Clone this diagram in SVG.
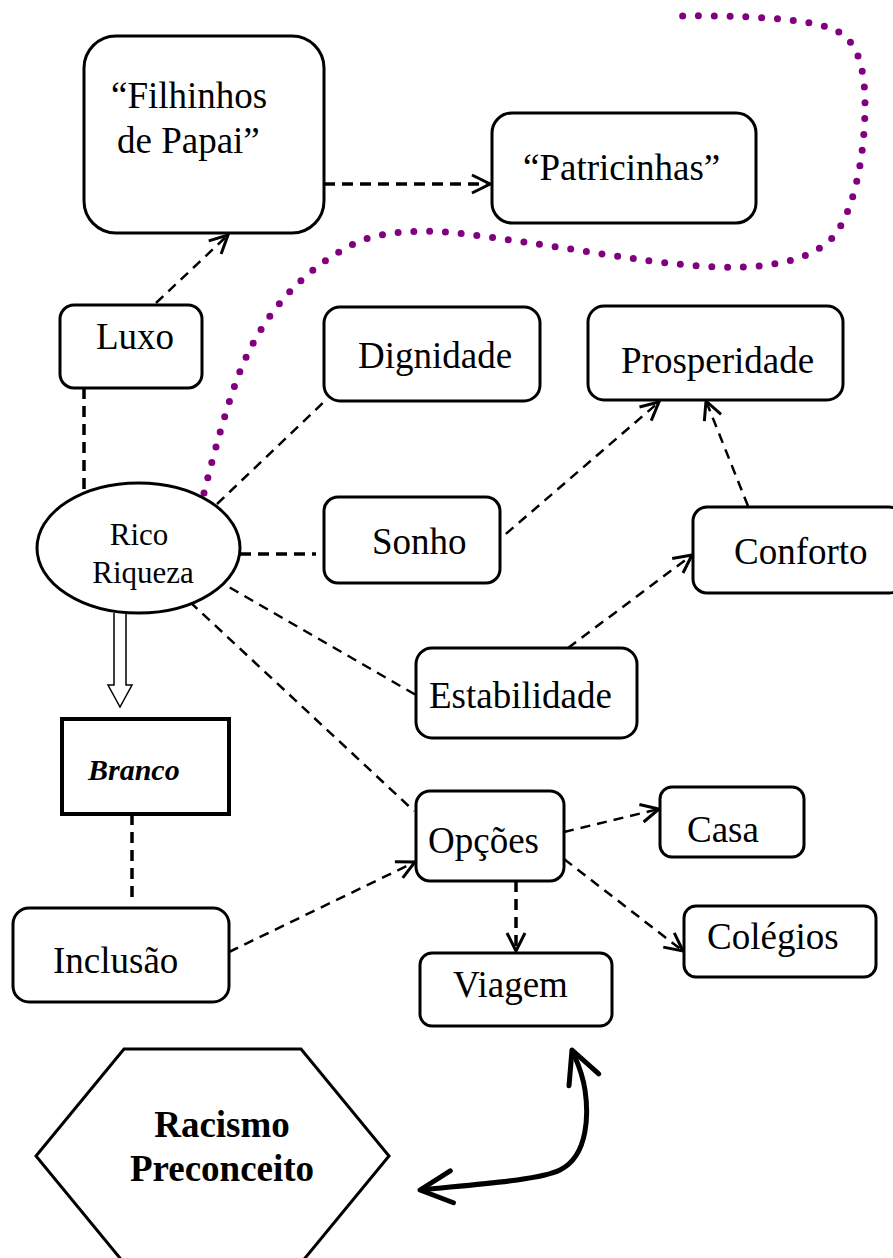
<svg xmlns="http://www.w3.org/2000/svg" width="893" height="1258" viewBox="0 0 893 1258">
  <defs>
    <style>
      .box { fill: #fff; stroke: #000; stroke-width: 3; }
      .lbl { font-family: "Liberation Serif", "Times New Roman", serif; font-size: 37px; fill: #000; }
      .dash { fill: none; stroke: #000; stroke-width: 2.5; stroke-dasharray: 10 7; }
      .dashb { fill: none; stroke: #000; stroke-width: 3.5; stroke-dasharray: 11 7; }
      .dots { fill: none; stroke: #800080; stroke-width: 7; stroke-linecap: round; stroke-dasharray: 0 15.8; }
    </style>
    <marker id="open" viewBox="0 0 24 24" refX="22" refY="12" markerWidth="24" markerHeight="24" markerUnits="userSpaceOnUse" orient="auto">
      <path d="M4,3 L22,12 L4,21" fill="none" stroke="#000" stroke-width="3"/>
    </marker>
    <marker id="bold" viewBox="0 0 40 40" refX="36" refY="20" markerWidth="40" markerHeight="40" markerUnits="userSpaceOnUse" orient="auto-start-reverse">
      <path d="M4,4 L36,20 L4,36" fill="none" stroke="#000" stroke-width="5" stroke-linecap="round" stroke-linejoin="round"/>
    </marker>
  </defs>
  <rect width="893" height="1258" fill="#fff"/>

  <!-- purple dotted boundary -->
  <path class="dots" d="M204,493 C214,452 226,410 236,382 C258,320 300,268 362,240 C400,228 440,230 480,236 C560,246 640,262 700,266 C760,271 812,262 834,236 C856,208 865,150 865,105 C865,62 855,36 830,28 C800,18 740,15 672,16"/>

  <g id="connectors">
    <line class="dashb" x1="324" y1="184" x2="490" y2="184" marker-end="url(#open)"/>
    <line class="dash" x1="156" y1="303" x2="228" y2="235" marker-end="url(#open)"/>
    <line class="dashb" x1="84" y1="388" x2="84" y2="493"/>
    <line class="dash" x1="217" y1="504" x2="326" y2="400"/>
    <line class="dashb" x1="240" y1="554" x2="316" y2="554"/>
    <line class="dash" x1="493" y1="545" x2="659" y2="402" marker-end="url(#open)"/>
    <line class="dash" x1="748" y1="506" x2="706" y2="401" marker-end="url(#open)"/>
    <line class="dash" x1="568" y1="648" x2="692" y2="555" marker-end="url(#open)"/>
    <line class="dash" x1="215" y1="579" x2="416" y2="695"/>
    <line class="dash" x1="190" y1="602" x2="414" y2="811"/>
    <line class="dash" x1="229" y1="952" x2="415" y2="862" marker-end="url(#open)"/>
    <line class="dash" x1="564" y1="832" x2="659" y2="809" marker-end="url(#open)"/>
    <line class="dash" x1="564" y1="859" x2="683" y2="951" marker-end="url(#open)"/>
    <line class="dashb" x1="516" y1="881" x2="516" y2="951" marker-end="url(#open)"/>
    <line class="dashb" x1="132" y1="814" x2="132" y2="903"/>
    <!-- hollow block arrow -->
    <path d="M114,613 L114,685 L108,685 L120,707 L132,685 L126,685 L126,613" fill="#fff" stroke="#000" stroke-width="1.5"/>
    <!-- curved two-headed arrow -->
    <path d="M420,1190 C480,1184 540,1180 560,1170 C590,1155 588,1110 585,1090 C582,1070 576,1060 572,1050" fill="none" stroke="#000" stroke-width="5" marker-start="url(#bold)" marker-end="url(#bold)"/>
  </g>

  <g id="filhinhos">
    <rect class="box" x="84" y="36" width="240" height="197" rx="32"/>
    <text class="lbl" x="111" y="108">“Filhinhos</text>
    <text class="lbl" x="117" y="153">de Papai”</text>
  </g>
  <g id="patricinhas">
    <rect class="box" x="492" y="113" width="264" height="110" rx="20"/>
    <text class="lbl" x="523" y="180">“Patricinhas”</text>
  </g>
  <g id="luxo">
    <rect class="box" x="60" y="305" width="142" height="83" rx="14"/>
    <text class="lbl" x="96" y="349">Luxo</text>
  </g>
  <g id="dignidade">
    <rect class="box" x="324" y="307" width="216" height="94" rx="16"/>
    <text class="lbl" x="358" y="368">Dignidade</text>
  </g>
  <g id="prosperidade">
    <rect class="box" x="588" y="306" width="255" height="94" rx="16"/>
    <text class="lbl" x="621" y="373">Prosperidade</text>
  </g>
  <g id="rico">
    <ellipse class="box" cx="138.5" cy="548" rx="101.5" ry="65"/>
    <text x="139" y="545" text-anchor="middle" font-family="Liberation Serif, Times New Roman, serif" font-size="31">Rico</text>
    <text x="143" y="583" text-anchor="middle" font-family="Liberation Serif, Times New Roman, serif" font-size="31">Riqueza</text>
  </g>
  <g id="sonho">
    <rect class="box" x="324" y="497" width="176" height="86" rx="14"/>
    <text class="lbl" x="372" y="554">Sonho</text>
  </g>
  <g id="conforto">
    <rect class="box" x="693" y="507" width="210" height="86" rx="14"/>
    <text class="lbl" x="734" y="564">Conforto</text>
  </g>
  <g id="estabilidade">
    <rect class="box" x="416" y="648" width="221" height="90" rx="16"/>
    <text class="lbl" x="429" y="708">Estabilidade</text>
  </g>
  <g id="branco">
    <rect x="62" y="719" width="167" height="95" fill="#fff" stroke="#000" stroke-width="4"/>
    <text x="88" y="780" font-family="Liberation Serif, Times New Roman, serif" font-size="30" font-weight="bold" font-style="italic">Branco</text>
  </g>
  <g id="opcoes">
    <rect class="box" x="416" y="791" width="148" height="90" rx="14"/>
    <text class="lbl" x="428" y="853">Opções</text>
  </g>
  <g id="casa">
    <rect class="box" x="660" y="787" width="144" height="70" rx="12"/>
    <text class="lbl" x="687" y="842">Casa</text>
  </g>
  <g id="colegios">
    <rect class="box" x="684" y="906" width="192" height="71" rx="12"/>
    <text class="lbl" x="707" y="949">Colégios</text>
  </g>
  <g id="viagem">
    <rect class="box" x="420" y="953" width="192" height="73" rx="12"/>
    <text class="lbl" x="453" y="997">Viagem</text>
  </g>
  <g id="inclusao">
    <rect class="box" x="13" y="908" width="216" height="94" rx="16"/>
    <text class="lbl" x="53" y="973">Inclusão</text>
  </g>
  <g id="racismo">
    <polygon points="36,1156 124,1049 301,1049 389,1156 301,1263 124,1263" fill="#fff" stroke="#000" stroke-width="3"/>
    <text x="222" y="1137" text-anchor="middle" font-family="Liberation Serif, Times New Roman, serif" font-size="37" font-weight="bold">Racismo</text>
    <text x="222" y="1181" text-anchor="middle" font-family="Liberation Serif, Times New Roman, serif" font-size="37" font-weight="bold">Preconceito</text>
  </g>
</svg>
